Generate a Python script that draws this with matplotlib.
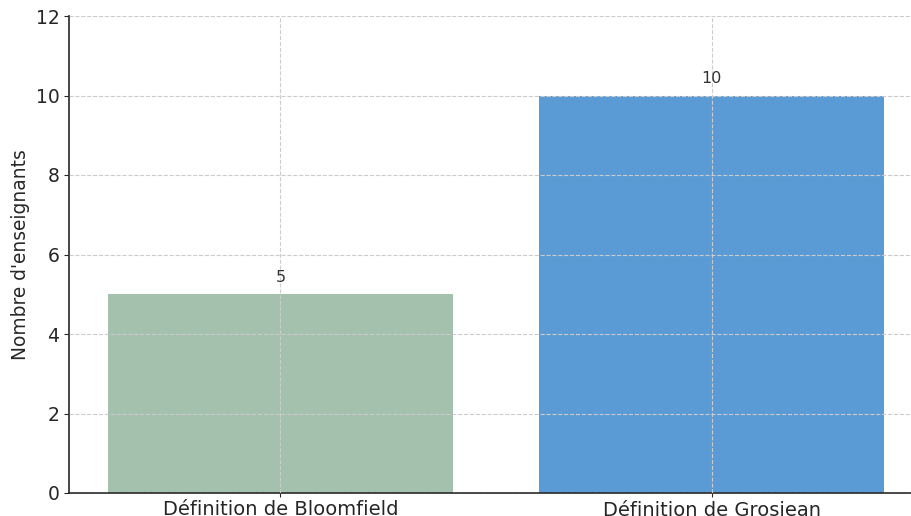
import matplotlib
matplotlib.use("Agg")
import matplotlib.pyplot as plt

# data
categories = ["Définition de Bloomfield", "Définition de Grosjean"]
counts = [5, 10]
bar_colors = ["#a3c1ad", "#5b9bd5"]

fig = plt.figure(figsize=(9.11, 5.16), dpi=100)
# the reference is cropped on the right and bottom, so the axes run off the figure
ax = fig.add_axes([69 / 911, 23 / 516, 854 / 911, 477 / 516])

bars = ax.bar(categories, counts, color=bar_colors, width=0.8)
for i, v in enumerate(counts):
    ax.text(i, v + 0.43, str(v), ha="center", va="center", fontsize=11.5, color="#333333")

ax.set_ylim(0, 12)
ax.set_xlim(-0.49, 1.49)
ax.set_ylabel("Nombre d'enseignants", fontsize=13.4, color="#262626")
ax.tick_params(axis="y", labelsize=13.5, colors="#262626")
ax.tick_params(axis="x", labelsize=14, colors="#262626", length=3, pad=2)
ax.grid(True, linestyle="--", color="#cccccc", linewidth=0.8)
ax.set_axisbelow(False)
for side in ["top", "right"]:
    ax.spines[side].set_visible(False)
for side in ["left", "bottom"]:
    ax.spines[side].set_color("#262626")
    ax.spines[side].set_linewidth(1.2)

fig.savefig("out.png", dpi=100)
